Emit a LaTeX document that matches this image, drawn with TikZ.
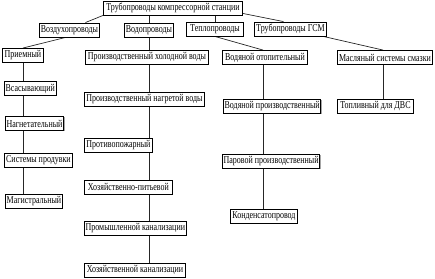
\documentclass[tikz,border=0pt]{standalone}
\usepackage{fontspec}
\setmainfont{Liberation Serif}[FakeStretch=0.76]
\usepackage{tikz}
\usetikzlibrary{calc,shadows,backgrounds}

\begin{document}
\begin{tikzpicture}[x=1pt,y=-1pt,
   box/.style={draw,line width=0.9pt,fill=white,minimum height=14pt,
              inner xsep=1.2pt,inner ysep=0pt,anchor=west,
              font=\fontsize{10.5}{11}\selectfont,
              drop shadow={shadow xshift=0.8pt,shadow yshift=-0.8pt,fill=gray!70,opacity=1}},
   link/.style={line width=0.7pt,black!85},
]
\useasboundingbox (0,0) rectangle (435,278);

% root and groups
\node[box,minimum width=139pt] (root) at (103,8) {Трубопроводы компрессорной станции};
\node[box,minimum width=60pt] (vozd) at (39,30) {Воздухопроводы};
\node[box,minimum width=49pt] (vodo) at (124,30) {Водопроводы};
\node[box,minimum width=57pt] (tepl) at (186,29) {Теплопроводы};
\node[box,minimum width=72pt] (gsm) at (254,29) {Трубопроводы ГСМ};

% air
\node[box,minimum width=41pt] (priem) at (2,55.5) {Приемный};
\node[box,minimum width=51pt] (vsas) at (4,88.5) {Всасывающий};
\node[box,minimum width=57pt] (nagn) at (5,123.5) {Нагнетательный};
\node[box,minimum width=68pt] (prod) at (4,160) {Системы продувки};
\node[box,minimum width=57pt] (magi) at (5,201.5) {Магистральный};

% water
\node[box,minimum width=123pt] (hold) at (85,57.5) {Производственный холодной воды};
\node[box,minimum width=120pt] (nagr) at (84,99.5) {Производственный нагретой воды};
\node[box,minimum width=68pt] (prot) at (84,145) {Противопожарный};
\node[box,minimum width=88pt] (pitv) at (84,187) {Хозяйственно-питьевой};
\node[box,minimum width=101pt] (prom) at (84,228.5) {Промышленной канализации};
\node[box,minimum width=101pt] (hozk) at (84,270) {Хозяйственной канализации};

% heat
\node[box,minimum width=85pt] (otop) at (222,57.5) {Водяной отопительный};
\node[box,minimum width=95pt] (vpro) at (223,106.5) {Водяной производственный};
\node[box,minimum width=96pt] (ppro) at (222,161) {Паровой производственный};
\node[box,minimum width=67pt] (kond) at (230,216.5) {Конденсатопровод};

% fuel and oil
\node[box,minimum width=95pt] (masl) at (337,57.5) {Масляный системы смазки};
\node[box,minimum width=76pt] (topl) at (337,106.5) {Топливный для ДВС};

% connectors
\begin{scope}[on background layer]
\draw[link] (root.south west) -- ([xshift=16pt]vozd.north);
\draw[link] (root.south -| vodo.north) -- (vodo.north);
\draw[link] (root.south -| tepl.north) -- (tepl.north);
\draw[link] ([yshift=2pt]root.south east) -- ([xshift=-7pt]gsm.north);
\draw[link] ([xshift=-4pt]vozd.south) -- (priem.north);
\draw[link] (vodo.south) -- (vodo.south |- hold.north);
\draw[link] (tepl.south) -- ([xshift=-2pt]otop.north);
\draw[link] ([xshift=33pt]gsm.south) -- ([xshift=-2pt]masl.north);
\foreach \a/\b in {priem/vsas,vsas/nagn,nagn/prod,prod/magi}
  \draw[link] (priem.south |- \a.south) -- (priem.south |- \b.north);
\foreach \a/\b in {hold/nagr,nagr/prot,prot/pitv,pitv/prom,prom/hozk}
  \draw[link] (vodo.south |- \a.south) -- (vodo.south |- \b.north);
\foreach \a/\b in {otop/vpro,vpro/ppro,ppro/kond}
  \draw[link] ([xshift=-2pt]otop.south |- \a.south) -- ([xshift=-2pt]otop.south |- \b.north);
\foreach \a/\b in {masl/topl}
  \draw[link] ([xshift=-2pt]\a.south) -- ([xshift=-2pt]\a.south |- \b.north);
\end{scope}
\end{tikzpicture}
\end{document}
